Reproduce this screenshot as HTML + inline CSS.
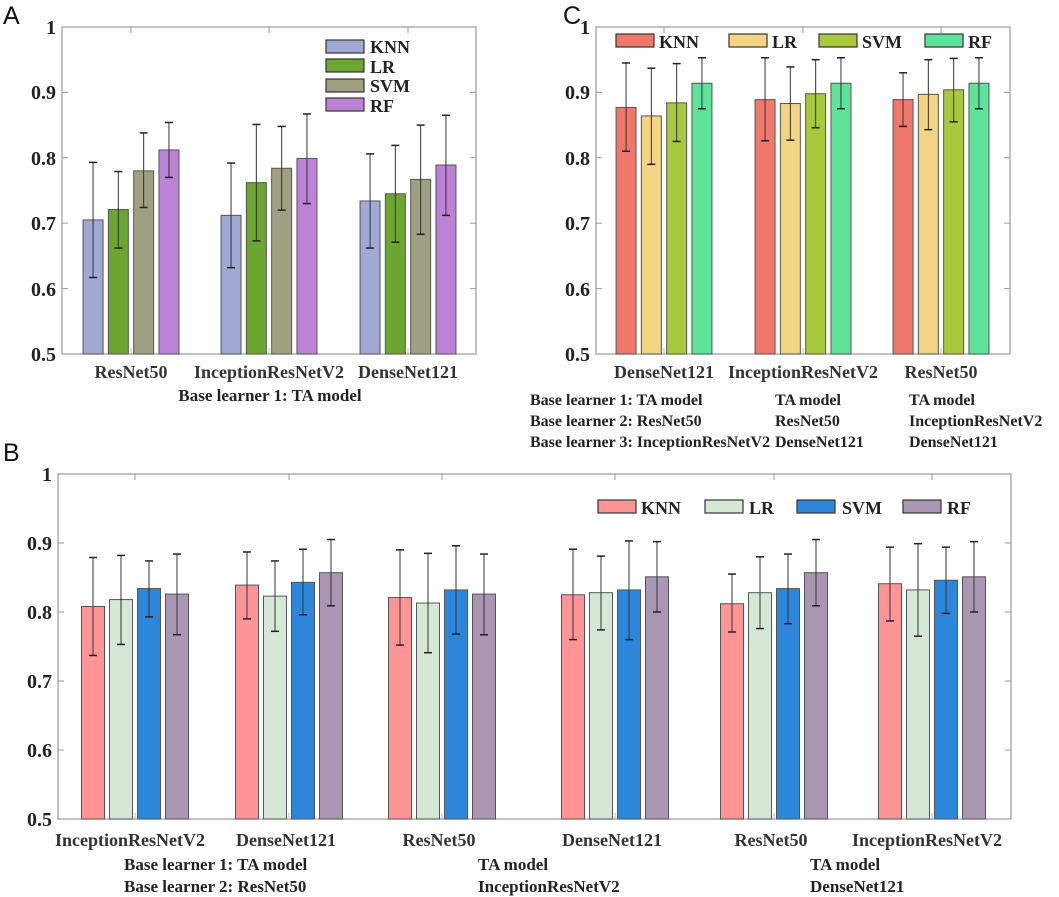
<!DOCTYPE html>
<html><head><meta charset="utf-8"><style>
body{margin:0;background:#fff}
svg{display:block}
text{font-family:"Liberation Serif",serif;font-weight:bold;fill:#222}
.pl{font-family:"Liberation Sans",sans-serif;font-weight:normal;font-size:25px;fill:#111}
.yt{font-size:20px;text-anchor:end}
.xl{font-size:18px;text-anchor:middle;fill:#333}
.lg{font-size:18px}
.cap{font-size:16px}
.capb{font-size:17px}
</style></head><body>
<svg id="s" width="1059" height="897" xmlns="http://www.w3.org/2000/svg">
<text class="pl" x="3" y="24">A</text>
<text class="pl" x="563" y="24">C</text>
<text class="pl" x="3" y="461">B</text>
<text class="yt" x="56" y="34">1</text>
<text class="yt" x="56" y="99">0.9</text>
<text class="yt" x="56" y="165">0.8</text>
<text class="yt" x="56" y="230">0.7</text>
<text class="yt" x="56" y="296">0.6</text>
<text class="yt" x="56" y="361">0.5</text>
<text class="xl" x="131" y="378">ResNet50</text>
<text class="xl" x="269" y="378">InceptionResNetV2</text>
<text class="xl" x="408" y="378">DenseNet121</text>
<text class="capb" x="270" y="401" text-anchor="middle">Base learner 1: TA model</text>
<text class="lg" x="370" y="53">KNN</text>
<text class="lg" x="370" y="73">LR</text>
<text class="lg" x="370" y="92">SVM</text>
<text class="lg" x="370" y="112">RF</text>
<text class="yt" x="590" y="34">1</text>
<text class="yt" x="590" y="99">0.9</text>
<text class="yt" x="590" y="165">0.8</text>
<text class="yt" x="590" y="230">0.7</text>
<text class="yt" x="590" y="296">0.6</text>
<text class="yt" x="590" y="361">0.5</text>
<text class="xl" x="664" y="378">DenseNet121</text>
<text class="xl" x="803" y="378">InceptionResNetV2</text>
<text class="xl" x="941" y="378">ResNet50</text>
<text class="cap" x="530" y="405">Base learner 1: TA model</text>
<text class="cap" x="530" y="426">Base learner 2: ResNet50</text>
<text class="cap" x="530" y="447">Base learner 3: InceptionResNetV2</text>
<text class="cap" x="775" y="405">TA model</text>
<text class="cap" x="775" y="426">ResNet50</text>
<text class="cap" x="775" y="447">DenseNet121</text>
<text class="cap" x="909" y="405">TA model</text>
<text class="cap" x="909" y="426">InceptionResNetV2</text>
<text class="cap" x="909" y="447">DenseNet121</text>
<text class="lg" x="659" y="48">KNN</text>
<text class="lg" x="772" y="48">LR</text>
<text class="lg" x="862" y="48">SVM</text>
<text class="lg" x="968" y="48">RF</text>
<text class="yt" x="52" y="481">1</text>
<text class="yt" x="52" y="550">0.9</text>
<text class="yt" x="52" y="619">0.8</text>
<text class="yt" x="52" y="688">0.7</text>
<text class="yt" x="52" y="757">0.6</text>
<text class="yt" x="52" y="826">0.5</text>
<text class="xl" x="130" y="846">InceptionResNetV2</text>
<text class="xl" x="286" y="846">DenseNet121</text>
<text class="xl" x="439" y="846">ResNet50</text>
<text class="xl" x="612" y="846">DenseNet121</text>
<text class="xl" x="771" y="846">ResNet50</text>
<text class="xl" x="927" y="846">InceptionResNetV2</text>
<text class="capb" x="124" y="870">Base learner 1: TA model</text>
<text class="capb" x="124" y="892">Base learner 2: ResNet50</text>
<text class="capb" x="478" y="870">TA model</text>
<text class="capb" x="478" y="892">InceptionResNetV2</text>
<text class="capb" x="810" y="870">TA model</text>
<text class="capb" x="810" y="892">DenseNet121</text>
<text class="lg" x="641" y="514">KNN</text>
<text class="lg" x="749" y="514">LR</text>
<text class="lg" x="842" y="514">SVM</text>
<text class="lg" x="947" y="514">RF</text>
</svg>
<script>
var s=document.getElementById('s'),NS='http://www.w3.org/2000/svg';
function add(t,a){var e=document.createElementNS(NS,t);for(var k in a)e.setAttribute(k,a[k]);s.appendChild(e);return e;}
function panel(x0,x1,yt,yb,centers,bw,pitch,cols,data,legend){
 var sc=(yb-yt)/0.5;
 function Y(v){return yb-(v-0.5)*sc;}
 add('rect',{x:x0,y:yt,width:x1-x0,height:yb-yt,fill:'none',stroke:'#999','stroke-width':1.2});
 for(var i=1;i<5;i++){var y=yt+i*(yb-yt)/5;add('line',{x1:x0,x2:x0+6,y1:y,y2:y,stroke:'#999'});add('line',{x1:x1,x2:x1-6,y1:y,y2:y,stroke:'#999'});}
 centers.forEach(function(c){add('line',{x1:c,x2:c,y1:yt,y2:yt+6,stroke:'#999'});add('line',{x1:c,x2:c,y1:yb,y2:yb-6,stroke:'#bbb'});});
 centers.forEach(function(c,g){for(var k=0;k<4;k++){var d=data[g][k];var bx=c+(k-1.5)*pitch-bw/2;
  add('rect',{x:bx,y:Y(d[0]),width:bw,height:yb-Y(d[0]),fill:cols[k],stroke:'#555','stroke-width':1});
  var cx=bx+bw/2;add('line',{x1:cx,x2:cx,y1:Y(d[1]),y2:Y(d[2]),stroke:'#333','stroke-width':1});
  add('line',{x1:cx-4,x2:cx+4,y1:Y(d[1]),y2:Y(d[1]),stroke:'#222','stroke-width':1.5});
  add('line',{x1:cx-4,x2:cx+4,y1:Y(d[2]),y2:Y(d[2]),stroke:'#222','stroke-width':1.5});}});
 legend.forEach(function(l,k){add('rect',{x:l[0],y:l[1],width:38,height:13,fill:cols[k],stroke:'#333','stroke-width':1.2});});
}
panel(62,476,27,354,[131,269,408],20,25.3,['#a0a8d4','#6aa630','#a09f82','#bb82d6'],
[[[.705,.617,.793],[.721,.662,.779],[.780,.724,.838],[.812,.770,.854]],
 [[.712,.632,.792],[.762,.673,.851],[.784,.720,.848],[.799,.730,.867]],
 [[.734,.662,.806],[.745,.671,.819],[.767,.683,.850],[.789,.712,.865]]],
[[326,40],[326,59],[326,79],[326,98]]);
panel(596,1010,27,354,[664,803,941],20,25.3,['#ee786c','#f2d482','#a8c83e','#5fe29a'],
[[[.877,.810,.945],[.864,.790,.937],[.884,.825,.944],[.914,.875,.953]],
 [[.889,.826,.953],[.883,.827,.939],[.898,.846,.950],[.914,.875,.953]],
 [[.889,.848,.930],[.897,.843,.950],[.904,.855,.952],[.914,.875,.953]]],
[[616,34],[729,34],[819,34],[925,34]]);
panel(58,1011,474,819,[135,289,442,615,774,932],23,28,['#fd9597','#d5e8d5','#2e86db','#a896b2'],
[[[.808,.737,.879],[.818,.753,.882],[.834,.793,.874],[.826,.767,.884]],
 [[.839,.790,.887],[.823,.772,.874],[.843,.796,.891],[.857,.809,.905]],
 [[.821,.752,.890],[.813,.741,.885],[.832,.768,.896],[.826,.767,.884]],
 [[.825,.760,.891],[.828,.774,.881],[.832,.760,.903],[.851,.800,.902]],
 [[.812,.771,.855],[.828,.776,.880],[.834,.783,.884],[.857,.809,.905]],
 [[.841,.787,.894],[.832,.765,.899],[.846,.798,.894],[.851,.800,.902]]],
[[598,500],[705,500],[797,500],[903,500]]);
</script>
</body></html>
